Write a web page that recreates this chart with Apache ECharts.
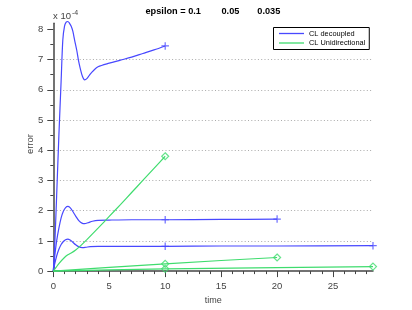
<!DOCTYPE html>
<html>
<head>
<meta charset="utf-8">
<script src="https://cdn.jsdelivr.net/npm/echarts@6/dist/echarts.min.js"></script>
<style>html,body{margin:0;padding:0;background:#fff}#c{width:412px;height:310px}</style>
</head>
<body>
<div id="c"></div>
<script>
// values are in units of 1e-4 (axis shows "x 10^-4")
const tDec1 = [0,0.1,0.3,0.5,0.7,0.85,1.0,1.15,1.3,1.45,1.6,1.75,1.9,2.1,2.25,2.4,2.6,2.8,3.0,3.3,3.6,4.0,5,6,7,8,9,10];
const vDec1 = [0,0.6,2.5,4.5,6.3,7.65,8.1,8.24,8.26,8.2,8.1,7.93,7.65,7.3,6.97,6.72,6.45,6.33,6.37,6.52,6.64,6.76,6.88,6.98,7.08,7.2,7.32,7.45];
const tDec2 = [0,0.1,0.3,0.5,0.7,0.9,1.1,1.3,1.5,1.7,2.0,2.3,2.6,2.8,3.1,3.5,4,5,7,10,15,20];
const vDec2 = [0,0.4,1.0,1.42,1.76,1.98,2.1,2.14,2.1,2.0,1.82,1.66,1.58,1.57,1.6,1.65,1.68,1.69,1.7,1.70,1.71,1.72];
const tDec3 = [0,0.1,0.3,0.5,0.7,0.9,1.1,1.3,1.5,1.7,2.0,2.3,2.6,2.9,3.3,4,6,10,15,20,28.57];
const vDec3 = [0,0.2,0.5,0.72,0.88,0.98,1.04,1.06,1.03,0.97,0.87,0.8,0.78,0.79,0.81,0.82,0.82,0.82,0.83,0.83,0.84];
const tUni1 = [0,0.5,1,1.3,1.6,2,2.5,3,4,5,6,7,8,9,10];
const vUni1 = [0,0.25,0.45,0.54,0.6,0.7,0.86,1.04,1.42,1.81,2.2,2.6,3.0,3.4,3.8];
const tUni2 = [0,2,5,10,15,20];
const vUni2 = [0,0.05,0.12,0.24,0.35,0.45];
const tUni3 = [0,5,10,20,28.57];
const vUni3 = [0,0.04,0.075,0.115,0.15];
const markTimes1 = [10];
const markTimes2 = [10,20];
const markTimes3 = [10,28.57];
const xMajorTicks = [0,5,10,15,20,25];
const xMinorTicks = [1,2,3,4,6,7,8,9,11,12,13,14,16,17,18,19,21,22,23,24,26,27,28];
const yMajorTicks = [0,1,2,3,4,5,6,7,8];
const yMinorTicks = [0.5,1.5,2.5,3.5,4.5,5.5,6.5,7.5];
const titleParts = ['epsilon = 0.1','0.05','0.035'];
const legendNames = ['CL decoupled','CL Unidirectional'];

const BLUE = '#4848ff', GREEN = '#3fdc6e', AX = '#444';
const pairs = (t, v) => t.map((x, i) => [x, v[i]]);
const marks = (t, v, times) => times.map(tm => [tm, v[t.indexOf(tm)]]);
const PLUS = 'path://M4.2,0H5.8V4.2H10V5.8H5.8V10H4.2V5.8H0V4.2H4.2Z';

const lineS = (name, t, v, color, smooth) => ({
  type: 'line', name, data: pairs(t, v), symbol: 'none', smooth,
  lineStyle: { color, width: 1.2 }, itemStyle: { color }, clip: false, z: 3
});
const markS = (t, v, times, kind) => ({
  type: 'scatter', name: kind === 'plus' ? 'm1' : 'm2', data: marks(t, v, times),
  symbol: kind === 'plus' ? PLUS : 'diamond', symbolSize: kind === 'plus' ? 7.5 : 7,
  itemStyle: kind === 'plus' ? { color: BLUE } : { color: 'rgba(255,255,255,0)', borderColor: GREEN, borderWidth: 1.2 },
  z: 4, silent: true
});

const chart = echarts.init(document.getElementById('c'), null, { renderer: 'canvas' });
const titleX = [145.5, 221.5, 257.3];
chart.setOption({
  animation: false,
  title: titleParts.map((s, i) => ({
    text: s, left: titleX[i], top: 7, padding: 0,
    textStyle: { fontFamily: 'Liberation Sans', fontSize: 9.2, fontWeight: 'bold', color: '#000' }
  })),
  legend: {
    data: legendNames, orient: 'vertical', left: 273.5, top: 27.5,
    icon: 'rect', itemWidth: 25, itemHeight: 1.3, itemGap: 0.5,
    padding: [1.5, 4, 2, 5.5], borderColor: '#000', borderWidth: 1, backgroundColor: '#fff',
    textStyle: { fontFamily: 'Liberation Sans', fontSize: 7.4, color: '#000', lineHeight: 9 }
  },
  grid: { left: 53.3, right: 39, top: 23.3, bottom: 35, containLabel: false },
  xAxis: [{
    type: 'value', min: 0, max: 28.571, interval: 5,
    name: 'time', nameLocation: 'middle', nameGap: 21,
    nameTextStyle: { fontFamily: 'Liberation Sans', fontSize: 9, color: '#444' },
    axisLine: { lineStyle: { color: AX, width: 1.5 } },
    axisTick: { customValues: xMajorTicks, length: 6, lineStyle: { color: AX, width: 1 } },
    axisLabel: { customValues: xMajorTicks, margin: 10, fontFamily: 'Liberation Sans', fontSize: 9.5, color: '#444' },
    splitLine: { show: false }
  }, {
    type: 'value', min: 0, max: 28.571, position: 'bottom',
    axisLine: { show: false },
    axisTick: { customValues: xMinorTicks, length: 3, lineStyle: { color: AX, width: 1 } },
    axisLabel: { show: false }, splitLine: { show: false }
  }],
  yAxis: [{
    type: 'value', min: 0, max: 8.2, interval: 1,
    axisLine: { show: true, lineStyle: { color: AX, width: 1.5 } },
    axisTick: { show: true, customValues: yMajorTicks, length: 6, lineStyle: { color: AX, width: 1 } },
    axisLabel: { customValues: yMajorTicks, margin: 10, fontFamily: 'Liberation Sans', fontSize: 9.5, color: '#444' },
    splitLine: { show: true, showMinLine: false, showMaxLine: false, lineStyle: { color: '#aaa', width: 1, type: [1, 2.3] } }
  }, {
    type: 'value', min: 0, max: 8.2, position: 'left',
    axisLine: { show: false },
    axisTick: { show: true, customValues: yMinorTicks, length: 3, lineStyle: { color: AX, width: 1 } },
    axisLabel: { show: false }, splitLine: { show: false }
  }],
  graphic: [{
    type: 'text', left: 53, top: 10,
    style: { text: 'x 10{s|-4}', fill: '#444', font: '9.5px "Liberation Sans"',
      rich: { s: { fontSize: 7, verticalAlign: 'top', padding: [0, 0, 6, 1] } } }
  }, {
    type: 'text', x: 30.5, y: 144, rotation: Math.PI / 2,
    style: { text: 'error', fill: '#444', font: '9.5px "Liberation Sans"', align: 'center', verticalAlign: 'middle' }
  }],
  series: [
    lineS(legendNames[0], tDec1, vDec1, BLUE, 0.3),
    lineS(legendNames[0], tDec2, vDec2, BLUE, 0.3),
    lineS(legendNames[0], tDec3, vDec3, BLUE, 0.3),
    lineS(legendNames[1], tUni1, vUni1, GREEN, 0.2),
    lineS(legendNames[1], tUni2, vUni2, GREEN, false),
    lineS(legendNames[1], tUni3, vUni3, GREEN, false),
    markS(tDec1, vDec1, markTimes1, 'plus'),
    markS(tDec2, vDec2, markTimes2, 'plus'),
    markS(tDec3, vDec3, markTimes3, 'plus'),
    markS(tUni1, vUni1, markTimes1, 'dia'),
    markS(tUni2, vUni2, markTimes2, 'dia'),
    markS(tUni3, vUni3, markTimes3, 'dia')
  ]
});
</script>
</body>
</html>
